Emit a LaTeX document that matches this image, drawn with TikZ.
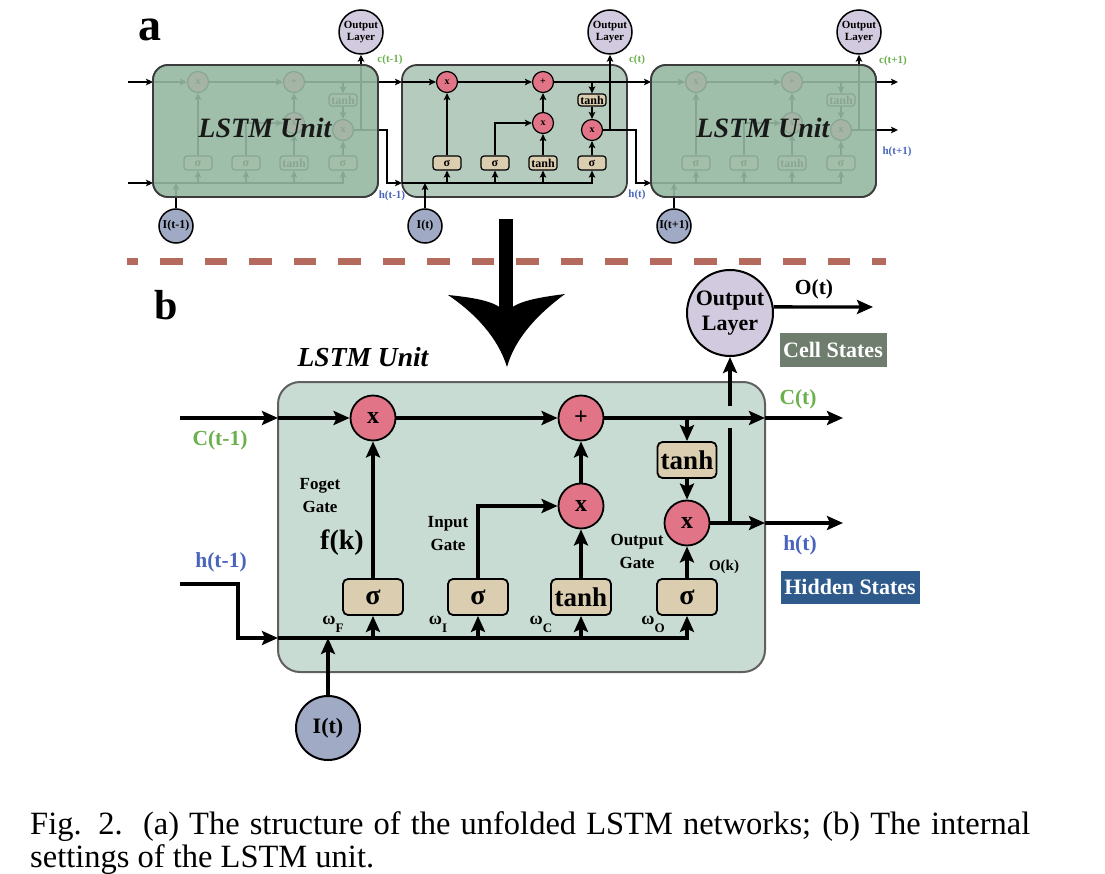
\documentclass[tikz,border=0pt]{standalone}
\usepackage{fontspec}
\setmainfont{Liberation Serif}
\usetikzlibrary{arrows.meta,calc}
\definecolor{pinkc}{HTML}{E27488}
\definecolor{tanc}{HTML}{DACDB0}
\definecolor{lavc}{HTML}{D2CADE}
\definecolor{inc}{HTML}{A0AAC4}
\definecolor{unitc}{HTML}{B4CBBE}
\definecolor{fadec}{HTML}{9CBEA9}
\definecolor{bigc}{HTML}{C9DCD3}
\definecolor{greenc}{HTML}{6AB04C}
\definecolor{bluec}{HTML}{4A64BD}
\definecolor{dashc}{HTML}{B56A5E}
\definecolor{cellc}{HTML}{6F7D6E}
\definecolor{hidc}{HTML}{2F5B8C}
\definecolor{boxc}{HTML}{3C3C3C}
\begin{document}
\begin{tikzpicture}[x=1pt,y=-1pt,
  ln/.style={line width=1.7pt},
  lnB/.style={line width=3.3pt},
  aS/.style={ln,-{Stealth[length=7pt,width=6.5pt,inset=1.5pt]}},
  aB/.style={lnB,-{Stealth[length=16pt,width=14pt,inset=3pt]}},
  opS/.style={circle,draw,fill=pinkc,line width=1.2pt,minimum size=21pt,inner sep=0pt,font=\bfseries\fontsize{10}{10}\selectfont},
  gateS/.style={draw,fill=tanc,rounded corners=3pt,minimum width=28pt,minimum height=14pt,inner sep=0pt,line width=1.2pt,font=\bfseries\fontsize{12}{12}\selectfont},
  olS/.style={circle,draw,fill=lavc,minimum size=44pt,inner sep=0pt,line width=1.5pt,align=center,font=\bfseries\fontsize{11}{11.5}\selectfont},
  inS/.style={circle,draw,fill=inc,minimum size=34pt,inner sep=0pt,line width=1.5pt,font=\bfseries\fontsize{12}{12}\selectfont},
  opB/.style={circle,draw,fill=pinkc,line width=1.8pt,minimum size=45pt,inner sep=0pt,font=\bfseries\fontsize{24}{24}\selectfont},
  gateB/.style={draw,fill=tanc,rounded corners=5pt,minimum width=60pt,minimum height=36pt,inner sep=0pt,line width=1.8pt,font=\bfseries\fontsize{28}{28}\selectfont},
  olB/.style={circle,draw,fill=lavc,minimum size=86pt,inner sep=0pt,line width=2pt,align=center,font=\bfseries\fontsize{22}{25}\selectfont},
  inB/.style={circle,draw,fill=inc,minimum size=64pt,inner sep=0pt,line width=2pt,font=\bfseries\fontsize{22}{22}\selectfont},
  labS/.style={inner sep=0pt,font=\bfseries\fontsize{11}{11}\selectfont},
  labB/.style={inner sep=0pt,font=\bfseries\fontsize{21.5}{21.5}\selectfont},
  gtxt/.style={inner sep=0pt,align=center,font=\bfseries\fontsize{17}{23}\selectfont},
  wtxt/.style={inner sep=0pt,font=\bfseries\fontsize{18}{18}\selectfont},
  unitbox/.style={draw=boxc,line width=1.8pt,rounded corners=15pt}
]
\useasboundingbox (0,0) rectangle (1105,874);

% ---------- (a) ----------
\node[inner sep=0pt,font=\bfseries\fontsize{46}{46}\selectfont] (la) at (150,30) {a};

\foreach \u/\L/\it in {1/153/t-1,2/402/t,3/651/t+1}{
  \fill[unitc,rounded corners=15pt] (\L,65) rectangle ++(225,132);
  \draw[unitbox] (\L,65) rectangle ++(225,132);
  \coordinate (cl\u) at (\L,82);
  \coordinate (cr\u) at (\L+225,82);
  \coordinate (hl\u) at (\L,183);
  \coordinate (tj\u) at (\L+190,82);
  \coordinate (oj\u) at (\L+208,130);
  \coordinate (hk\u) at (\L+234,130);
  \node[opS] (fm\u) at (\L+45,82) {x};
  \node[opS] (pl\u) at (\L+141,82) {+};
  \node[opS] (im\u) at (\L+141,123) {x};
  \node[opS] (om\u) at (\L+190,130) {x};
  \node[gateS,minimum height=12pt] (th\u) at (\L+190,100) {tanh};
  \node[gateS] (sa\u) at (\L+45,163) {σ};
  \node[gateS] (sb\u) at (\L+93,163) {σ};
  \node[gateS] (sc\u) at (\L+141,163) {tanh};
  \node[gateS] (sd\u) at (\L+190,163) {σ};
  \node[olS] (ol\u) at (\L+208,32) {Output\\Layer};
  \node[inS] (in\u) at (\L+23,226) {I(\it)};
  \draw[aS] (cl\u) -- (fm\u);
  \draw[aS] (fm\u) -- (pl\u);
  \draw[ln] (pl\u) -- (cr\u);
  \draw[aS] (tj\u) -- (th\u);
  \draw[aS] (th\u) -- (om\u);
  \draw[aS] (sd\u) -- (om\u);
  \draw[aS] (sa\u) -- (fm\u);
  \draw[aS] (sb\u) |- (im\u);
  \draw[aS] (sc\u) -- (im\u);
  \draw[aS] (im\u) -- (pl\u);
  \draw[aS] (hl\u) -| (sd\u);
  \draw[aS] (sa\u |- hl\u) -- (sa\u);
  \draw[aS] (sb\u |- hl\u) -- (sb\u);
  \draw[aS] (sc\u |- hl\u) -- (sc\u);
  \draw[aS] (in\u) -- (in\u |- hl\u);
  \draw[ln] (om\u) -- (oj\u);
  \draw[aS] (oj\u) -- (ol\u);
}
\coordinate (cst) at (128,82);
\coordinate (hst) at (128,183);
\coordinate (cend) at (898,82);
\coordinate (hend) at (898,130);
\draw[aS] (cst) -- (cl1);
\draw[aS] (hst) -- (hl1);
\draw[aS] (cr1) -- (cl2);
\draw[aS] (cr2) -- (cl3);
\draw[aS] (oj1) -- (hk1) |- (hl2);
\draw[aS] (oj2) -- (hk2) |- (hl3);
\draw[aS] (cr3) -- (cend);
\draw[aS] (oj3) -- (hend);

% faded units
\foreach \u/\L in {1/153,3/651}{
  \fill[fadec,opacity=0.87,rounded corners=15pt] (\L,65) rectangle ++(225,132);
  \draw[unitbox] (\L,65) rectangle ++(225,132);
  \node[inner sep=0pt,text=black!90,font=\bfseries\itshape\fontsize{28}{28}\selectfont] (lu\u) at (\L+112,128) {LSTM Unit};
}

\node[labS,text=greenc] (lc1) at (390,60) {c(t-1)};
\node[labS,text=greenc] (lc2) at (637,60) {c(t)};
\node[labS,text=greenc] (lc3) at (893,61) {c(t+1)};
\node[labS,text=bluec] (lh1) at (392,196) {h(t-1)};
\node[labS,text=bluec] (lh2) at (637,195) {h(t)};
\node[labS,text=bluec] (lh3) at (897,152) {h(t+1)};

% separator
\draw[dashc,line width=7pt,dash pattern=on 22.5pt off 22pt,dash phase=11.5pt] (127,262) -- (886,262);

% big arrow
\fill[black] (499,219) rectangle (513,314);
\fill[black] (448,295) .. controls (478,298) and (498,302) .. (506,313)
  .. controls (514,302) and (534,298) .. (565,294)
  .. controls (538,314) and (515,338) .. (507,367)
  .. controls (498,338) and (476,314) .. (448,295) -- cycle;

% ---------- (b) ----------
\node[inner sep=0pt,font=\bfseries\fontsize{42}{42}\selectfont] (lb) at (166,305) {b};
\node[inner sep=0pt,font=\bfseries\itshape\fontsize{27.5}{27.5}\selectfont] (lub) at (363,357) {LSTM Unit};

\draw[draw=gray!75!black,line width=2pt,fill=bigc,rounded corners=22pt] (278,382) rectangle (765,672);

\coordinate (cIn) at (180,418);
\coordinate (cL) at (278,418);
\coordinate (cR) at (765,418);
\coordinate (cEnd) at (843,418);
\coordinate (tj) at (687,418);
\coordinate (hIn) at (180,584);
\coordinate (hK) at (238,584);
\coordinate (hL) at (278,638);
\coordinate (oj) at (730,523);
\coordinate (gA) at (730,428);
\coordinate (gB) at (730,406);
\coordinate (hR) at (765,523);
\coordinate (hEnd) at (843,523);
\coordinate (oEnd) at (873,307);

\node[opB] (fm) at (373,418) {x};
\node[opB] (pl) at (581,418) {+};
\node[opB] (im) at (581,506) {x};
\node[opB] (om) at (687,523) {x};
\node[gateB,minimum width=59pt,font=\bfseries\fontsize{27}{27}\selectfont] (th) at (687,460) {tanh};
\node[gateB] (s1) at (373,597) {σ};
\node[gateB] (s2) at (478,597) {σ};
\node[gateB,font=\bfseries\fontsize{27}{27}\selectfont] (s3) at (581,597) {tanh};
\node[gateB] (s4) at (687,597) {σ};
\node[olB] (ol) at (730,313) {Output\\Layer};
\node[inB] (iB) at (328,728) {I(t)};

\draw[aB] (cIn) -- (cL);
\draw[aB] (cL) -- (fm);
\draw[aB] (fm) -- (pl);
\draw[aB] (pl) -- (cR);
\draw[aB] (cR) -- (cEnd);
\draw[aB] (tj) -- (th);
\draw[aB] (th) -- (om);
\draw[aB] (s4) -- (om);
\draw[aB] (om) -- (hR);
\draw[aB] (hR) -- (hEnd);
\draw[lnB] (oj) -- (gA);
\draw[aB] (gB) -- (ol);
\draw[aB] (ol.8) -- (oEnd);
\draw[aB] (s1) -- (fm);
\draw[aB] (s2) |- (im);
\draw[aB] (s3) -- (im);
\draw[aB] (im) -- (pl);
\draw[aB] (hIn) -- (hK) |- (hL);
\draw[aB] (hL) -| (s4);
\draw[aB] (s1 |- hL) -- (s1);
\draw[aB] (s2 |- hL) -- (s2);
\draw[aB] (s3 |- hL) -- (s3);
\draw[aB] (iB) -- (iB |- hL);

\node[gtxt] (tf) at (320,496) {Foget\\Gate};
\node[inner sep=0pt,font=\bfseries\fontsize{28}{28}\selectfont] (fk) at (342,543) {f(k)};
\node[gtxt] (tin) at (448,534) {Input\\Gate};
\node[gtxt] (tout) at (637,551) {Output\\Gate};
\node[inner sep=0pt,font=\bfseries\fontsize{15}{15}\selectfont] (okl) at (724,567) {O(k)};
\node[labB,text=greenc] (lC1) at (220,440) {C(t-1)};
\node[labB,text=bluec] (lH1) at (221,562) {h(t-1)};
\node[labB,text=greenc] (lC) at (798,399) {C(t)};
\node[labB,text=bluec] (lH) at (800,545) {h(t)};
\node[labB] (lO) at (814,289) {O(t)};
\node[fill=cellc,text=white,minimum width=107pt,minimum height=33pt,inner sep=0pt,font=\bfseries\fontsize{22}{22}\selectfont] (cs) at (833,350) {Cell States};
\node[fill=hidc,text=white,minimum width=139pt,minimum height=33pt,inner sep=0pt,font=\bfseries\fontsize{22}{22}\selectfont] (hs) at (850,587) {Hidden States};

\node[wtxt] (wF) at (333,624) {ω\raisebox{-8pt}{\fontsize{13}{13}\selectfont F}};
\node[wtxt] (wI) at (438,624) {ω\raisebox{-8pt}{\fontsize{13}{13}\selectfont I}};
\node[wtxt] (wC) at (541,624) {ω\raisebox{-8pt}{\fontsize{13}{13}\selectfont C}};
\node[wtxt] (wO) at (653,624) {ω\raisebox{-8pt}{\fontsize{13}{13}\selectfont O}};

% caption
\node[anchor=base west,inner sep=0pt,font=\fontsize{32.5}{38}\selectfont] (cap1) at (30,834)
  {\makebox[1000pt][s]{Fig. 2.\ \ (a) The structure of the unfolded LSTM networks; (b) The internal}};
\node[anchor=base west,inner sep=0pt,font=\fontsize{32.5}{38}\selectfont] (cap2) at (30,867)
  {settings of the LSTM unit.};
\end{tikzpicture}
\end{document}
